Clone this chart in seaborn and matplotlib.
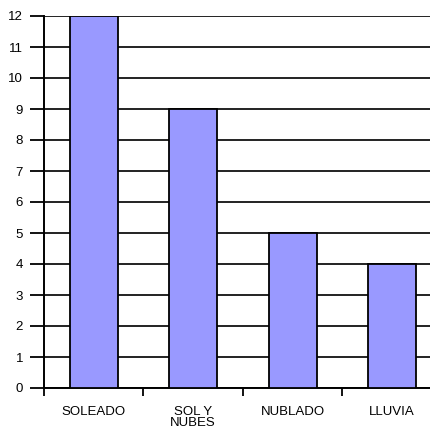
import pandas as pd
import numpy as np
from matplotlib import pyplot as plt
import seaborn as sb

# weather categories and day counts
categorias = ["SOLEADO", "SOL Y\nNUBES", "NUBLADO", "LLUVIA"]
dias = [12, 9, 5, 4]

df = pd.DataFrame({"clima": categorias, "dias": dias})

sb.set_style("white")
plt.rcParams['font.family'] = ['Liberation Sans', 'DejaVu Sans']

fig = plt.figure(figsize=(4.31, 4.34), dpi=100)
ax = fig.add_axes([44 / 431, 46 / 434, 1 - 44 / 431, (388 - 16) / 434])

sb.barplot(data=df, x="clima", y="dias", color="#9999ff", width=0.48,
           edgecolor="black", linewidth=1.3, saturation=1, ax=ax, zorder=3)

ax.set_ylim(0, 12)
ax.set_xlim(-0.5, 3.39)
ax.set_yticks(range(0, 13))
ax.yaxis.grid(True, color="#111111", lw=1.3, zorder=0)
ax.set_axisbelow(True)

# category labels at centers, tick marks at boundaries
ax.set_xticks(np.arange(len(categorias)))
ax.set_xticklabels(categorias, fontsize=9.5, linespacing=0.85)
ax.set_xticks(np.arange(len(categorias)) - 0.5, minor=True)
ax.tick_params(axis="x", which="major", length=0, pad=13, bottom=True,
               labelcolor="black")
ax.tick_params(axis="x", which="minor", length=6, width=1.3, color="black",
               direction="out", bottom=True)
ax.tick_params(axis="y", length=10, width=1.3, color="black", labelsize=9.5,
               pad=5, left=True, labelcolor="black")

for s in ["top", "right"]:
    ax.spines[s].set_visible(False)
for s in ["left", "bottom"]:
    ax.spines[s].set_color("black")
    ax.spines[s].set_linewidth(1.4)

ax.set_xlabel("")
ax.set_ylabel("")

plt.savefig("out.png", dpi=100)
plt.close()
